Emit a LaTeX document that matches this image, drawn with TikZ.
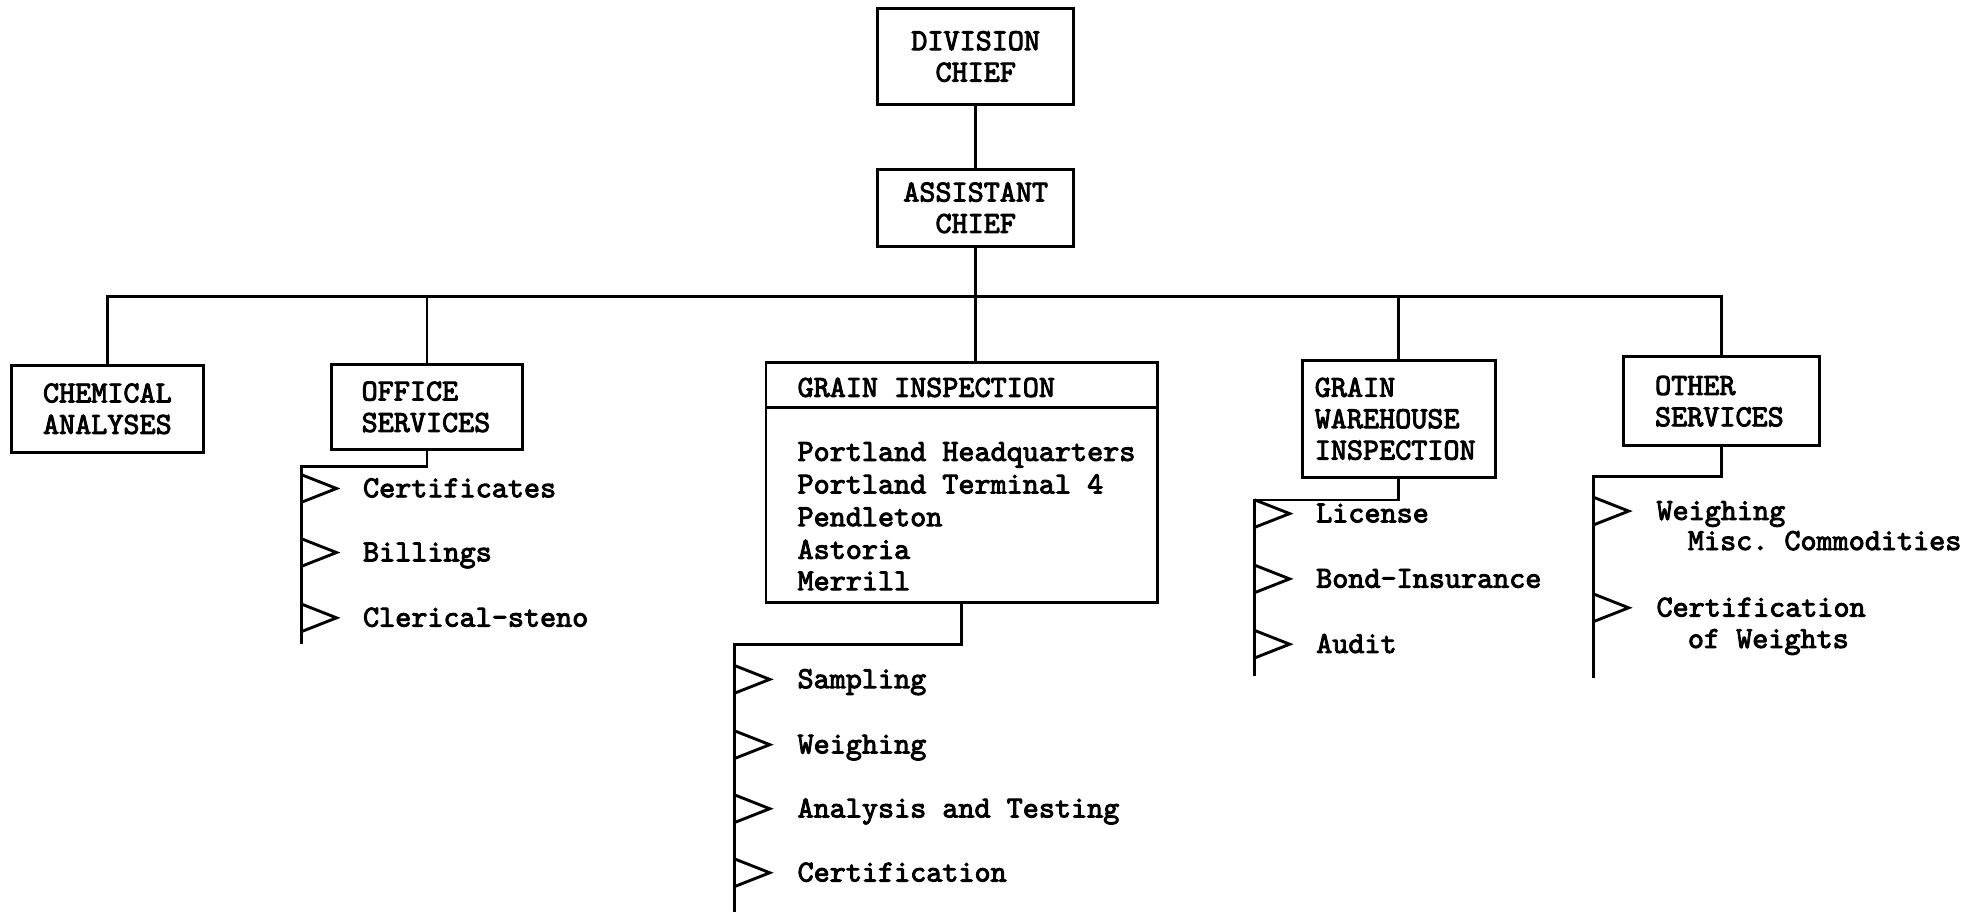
\documentclass[tikz,border=0pt]{standalone}
\usepackage{fontspec}
\setmonofont{lmmono10-regular.otf}[AutoFakeBold=3]
% small open flag that marks each duty on a bracket spine
\newcommand{\flagmark}[2]{%
  \draw[flagline] (#1 |- #2.base) ++(0,-7) ++(0,-11) -- ++(28,11) -- ++(-28,11);}
\begin{document}
\begin{tikzpicture}[x=1pt,y=-1pt,line width=2.3pt,
  every node/.style={font=\ttfamily\bfseries\fontsize{24.4}{25}\selectfont,inner sep=0pt},
  unit/.style={draw,rectangle,inner sep=0pt,line width=2.3pt},
  item/.style={anchor=base west},
  flagline/.style={line width=2.3pt,line join=miter}]
\useasboundingbox (0,0) rectangle (1568,726);

% --- top of the chain of command
\node[unit,minimum width=156pt,minimum height=76pt,align=center] (div) at (777,45) {DIVISION\\CHIEF};
\node[unit,minimum width=156pt,minimum height=61pt,align=center] (ast) at (777,165.5) {ASSISTANT\\CHIEF};

% --- units
\node[unit,minimum width=153pt,minimum height=69pt,align=center] (chem) at (85.5,325.5) {CHEMICAL\\ANALYSES};
\node[unit,minimum width=152pt,minimum height=68pt,text width=104pt,align=left] (off) at (340,324) {OFFICE\\SERVICES};
\node[unit,minimum width=312pt,minimum height=191pt] (gi) at (766,384.5) {};
\node[unit,minimum width=154pt,minimum height=93pt,text width=134pt,align=left] (wh) at (1114,333.5) {GRAIN\\WAREHOUSE\\INSPECTION};
\node[unit,minimum width=156pt,minimum height=71pt,text width=106pt,align=left] (oth) at (1371,319.5) {OTHER\\SERVICES};

% grain inspection: heading band and stations
\draw (gi.north west) ++(0,37) coordinate (gidivl) -- (gidivl -| gi.east);
\node[item] (gih) at (634,316) {GRAIN INSPECTION};
\node[item] (st1) at (634,367) {Portland Headquarters};
\node[item] (st2) at (634,393) {Portland Terminal 4};
\node[item] (st3) at (634,419) {Pendleton};
\node[item] (st4) at (634,445) {Astoria};
\node[item] (st5) at (634,470) {Merrill};

% --- connectors
\coordinate (bus) at (777,236);
\draw (div) -- (ast);
\draw (ast.south) -- (ast.south |- gi.north);
\draw (chem.north) -- (chem.north |- bus) -| (oth.north);
\draw (off.north) -- (off.north |- bus);
\draw (wh.north) -- (wh.north |- bus);

% --- office services
\coordinate (offS) at (240,513);
\draw (off.south) -- ++(0,12) coordinate (offT) -| (offS);
\node[item] (o1) at (288,396) {Certificates};
\node[item] (o2) at (288,447) {Billings};
\node[item] (o3) at (288,499) {Clerical-steno};
\flagmark{offS}{o1}\flagmark{offS}{o2}\flagmark{offS}{o3}

% --- grain inspection duties
\coordinate (giS) at (585,730);
\draw (gi.south) -- ++(0,32) coordinate (giT) -| (giS);
\node[item] (g1) at (634,548) {Sampling};
\node[item] (g2) at (634,600) {Weighing};
\node[item] (g3) at (634,651) {Analysis and Testing};
\node[item] (g4) at (634,702) {Certification};
\flagmark{giS}{g1}\flagmark{giS}{g2}\flagmark{giS}{g3}\flagmark{giS}{g4}

% --- warehouse inspection duties
\coordinate (whS) at (999,538);
\draw (wh.south) -- ++(0,17) coordinate (whT) -| (whS);
\node[item] (w1) at (1047,416) {License};
\node[item] (w2) at (1047,468) {Bond-Insurance};
\node[item] (w3) at (1047,520) {Audit};
\flagmark{whS}{w1}\flagmark{whS}{w2}\flagmark{whS}{w3}

% --- other services duties
\coordinate (othS) at (1269,540);
\draw (oth.south) -- ++(0,23) coordinate (othT) -| (othS);
\node[item] (r1) at (1318,414) {Weighing};
\node[item] (r1b) at (1343,438) {Misc. Commodities};
\node[item] (r2) at (1318,491) {Certification};
\node[item] (r2b) at (1343,516) {of Weights};
\flagmark{othS}{r1}\flagmark{othS}{r2}
\end{tikzpicture}
\end{document}
